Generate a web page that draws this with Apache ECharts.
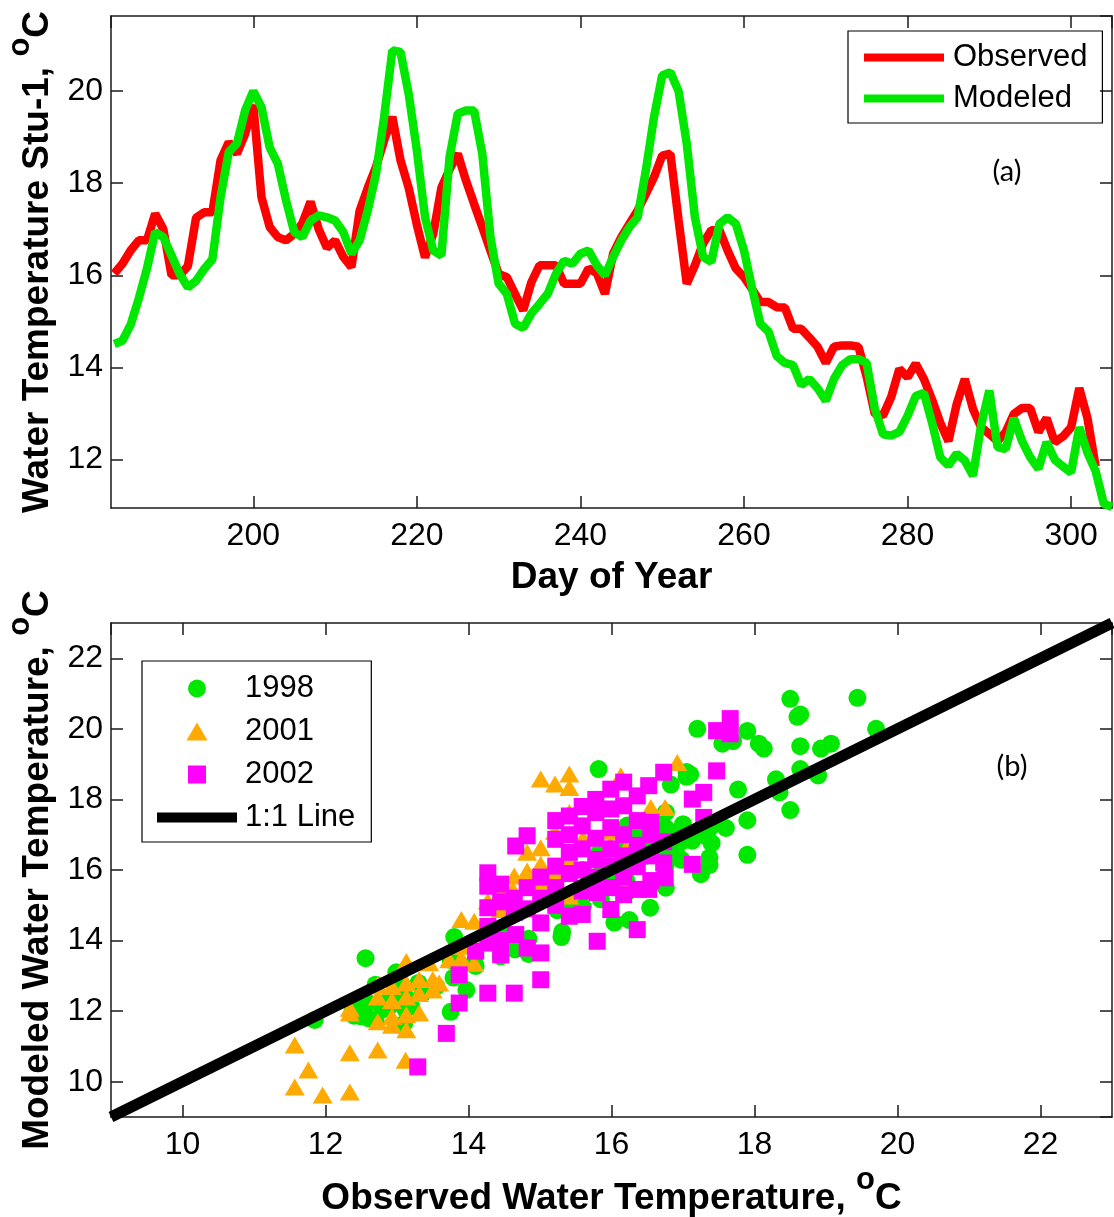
<!DOCTYPE html>
<html><head><meta charset="utf-8">
<script src="https://cdn.jsdelivr.net/npm/echarts@6/dist/echarts.min.js"></script>
<style>html,body{margin:0;padding:0;background:#fff}#c{width:1114px;height:1217px}</style>
</head><body><div id="c"></div>
<script>
// ---- Panel (a): daily water temperature at Stu-1 ----
const days = [183,184,185,186,187,188,189,190,191,192,193,194,195,196,197,198,199,200,
201,202,203,204,205,206,207,208,209,210,211,212,213,214,215,216,217,218,219,220,
221,222,223,224,225,226,227,228,229,230,231,232,233,234,235,236,237,238,239,240,
241,242,243,244,245,246,247,248,249,250,251,252,253,254,255,256,257,258,259,260,
261,262,263,264,265,266,267,268,269,270,271,272,273,274,275,276,277,278,279,280,
281,282,283,284,285,286,287,288,289,290,291,292,293,294,295,296,297,298,299,300,
301,302,303,304,305];
const observed = [16.04,16.25,16.54,16.76,16.76,17.34,17.0,16.0,16.0,16.2,17.25,17.37,17.37,18.5,18.89,18.64,19.07,19.7,
17.7,17.05,16.83,16.76,16.9,17.13,17.6,17.0,16.6,16.76,16.4,16.18,17.4,17.9,18.35,18.93,19.44,18.5,17.9,17.1,
16.39,16.9,17.9,18.3,18.64,18.06,17.55,17.05,16.54,16.03,15.96,15.6,15.24,15.85,16.22,16.22,16.22,15.82,15.82,15.82,
16.15,16.05,15.6,16.47,16.83,17.12,17.41,17.77,18.13,18.6,18.64,17.2,15.82,16.22,16.69,16.98,16.98,16.54,16.15,15.96,
15.7,15.42,15.42,15.31,15.3,14.84,14.84,14.65,14.45,14.1,14.45,14.48,14.48,14.45,13.8,12.99,12.96,13.36,13.97,13.79,
14.08,13.75,13.3,12.8,12.4,13.2,13.75,13.1,12.7,12.56,12.4,12.6,12.99,13.12,13.12,12.6,12.9,12.38,12.5,12.7,
13.55,12.9,11.85,null,null];
const modeled = [14.51,14.58,14.93,15.5,16.15,16.94,16.83,16.43,16.03,15.74,15.88,16.14,16.35,17.7,18.68,18.86,19.58,20.0,
19.65,18.78,18.42,17.63,16.94,16.83,17.19,17.3,17.26,17.19,16.94,16.47,16.76,17.41,18.2,19.44,20.88,20.85,19.94,18.71,
17.26,16.54,16.43,18.57,19.51,19.58,19.58,18.64,16.83,15.82,15.6,14.95,14.86,15.17,15.38,15.6,16.03,16.32,16.25,16.47,
16.54,16.22,16.0,16.4,16.76,17.05,17.26,18.28,19.44,20.34,20.41,20.0,18.86,17.26,16.4,16.29,17.12,17.26,17.12,16.54,
15.71,14.95,14.78,14.25,14.1,14.05,13.62,13.75,13.55,13.28,13.75,14.05,14.18,14.18,14.1,13.1,12.55,12.52,12.6,12.95,
13.38,13.45,12.8,12.05,11.87,12.13,11.98,11.65,12.75,13.5,12.27,12.23,12.9,12.4,12.05,11.8,12.38,12.0,11.85,11.72,
12.7,12.15,11.75,11.04,10.97];

// ---- Panel (b): observed vs modeled, by year ----
const scatter2001 = [
[11.57,11.04],[11.76,10.33],[11.57,9.85],[11.96,9.62],[12.34,9.71],[12.34,10.82],[12.73,10.9],[13.12,10.61],
[12.34,12.08],[12.34,11.95],[12.73,11.7],[12.73,12.75],[12.73,12.4],[12.93,12.7],[12.93,12.3],[12.93,11.85],[12.93,11.6],
[13.13,12.8],[13.13,12.4],[13.13,11.9],[13.13,11.47],[13.13,13.41],[13.31,12.9],[13.31,12.5],[13.31,11.95],[13.5,12.9],[13.5,12.6],
[13.45,13.37],[13.59,12.8],[13.73,13.46],[13.9,14.6],[13.9,13.5],[13.92,13.84],[14.08,14.55],[14.08,13.36],[14.27,15.12],[14.27,14.36],
[14.45,15.36],[14.45,14.88],[14.62,15.45],[14.64,15.83],[14.82,16.5],[14.82,15.97],[15.01,16.63],[15.01,16.16],[15.01,15.64],
[15.01,18.58],[15.21,18.44],[15.41,18.72],[15.41,18.34],[15.41,17.63],[15.41,16.35],[15.41,15.26],[15.8,17.77],[15.99,16.73],
[16.15,18.58],[16.13,18.67],[16.2,15.54],[16.55,17.77],[16.75,17.77],[16.92,19.05],[15.21,17.1],[15.6,16.9],[16.0,17.1],
[16.2,16.6],[14.64,14.9],[15.21,15.9]];
const scatter2002 = [
[13.29,10.42],[13.69,11.37],[13.87,13.03],[13.87,12.23],[14.27,12.51],[14.64,12.51],[15.01,12.89],[15.8,13.98],[16.36,14.31],
[14.27,15.92],[14.27,15.54],[14.27,14.93],[14.27,13.93],[14.45,13.6],[14.66,16.68],[14.82,16.97],[14.66,14.17],[14.82,13.79],
[15.01,13.65],[15.01,14.5],[15.22,16.87],[15.22,16.11],[15.41,17.53],[15.41,14.69],[15.59,17.25],[15.78,17.63],[15.99,18.29],
[16.17,18.49],[16.17,17.82],[15.99,17.73],[15.99,14.88],[15.59,14.74],[15.8,15.36],[16.36,15.45],[16.52,15.45],[16.52,18.39],
[16.55,17.35],[16.73,18.77],[16.75,15.78],[17.13,16.16],[17.13,18.01],[17.29,18.2],[17.29,17.49],[17.47,18.81],[17.47,19.95],
[17.66,20.29],[17.66,19.86],[14.45,14.0],[14.1,13.7],
[15.01,15.2],[15.01,15.8],[15.22,15.5],[15.22,15.0],[15.41,15.9],[15.41,16.5],[15.59,16.0],[15.59,16.6],[15.59,15.4],
[15.78,16.3],[15.78,16.9],[15.78,15.8],[15.99,16.1],[15.99,16.6],[15.99,17.2],[15.99,15.5],[16.17,16.4],[16.17,17.0],
[16.17,15.8],[16.36,16.7],[16.36,17.4],[16.36,16.1],[16.55,16.4],[16.55,17.0],[16.73,16.2],[16.73,16.8],[14.45,15.1],
[14.45,15.6],[14.64,15.2],[14.64,14.8],[14.82,15.5],[14.82,14.9],[15.22,17.4],[15.41,17.0],[15.59,17.8],[15.78,18.0],
[16.36,18.1],[16.55,15.7],[16.17,15.3],[14.27,14.4]];
const oneToOne = [[9,9],[23,23]];

// 1998 pairs are the same observed/modeled series shown in panel (a)
const scatter1998 = [];
days.forEach((d, i) => { if (observed[i] != null && modeled[i] != null) scatter1998.push([observed[i], modeled[i]]); });

const FONT = 'Liberation Sans';
const AX = {color: '#1a1a1a', width: 1.5};
const tickLbl = {fontSize: 32, fontFamily: FONT, color: '#000', showMinLabel: false, showMaxLabel: false};
const nameStyle = {
  fontFamily: FONT, fontWeight: 'bold', fontSize: 37, color: '#000',
  rich: {
    t: {fontFamily: FONT, fontWeight: 'bold', fontSize: 37, color: '#000', lineHeight: 52, verticalAlign: 'bottom'},
    s: {fontFamily: FONT, fontWeight: 'bold', fontSize: 31, color: '#000', lineHeight: 4, verticalAlign: 'top'}
  }
};
function mainX(grid, min, max, split, name, gap) {
  return {gridIndex: grid, type: 'value', min, max, splitNumber: split, position: 'bottom',
    axisLine: {show: true, onZero: false, lineStyle: AX},
    axisTick: {show: true, inside: true, length: 12, lineStyle: AX},
    axisLabel: Object.assign({margin: 12}, tickLbl), splitLine: {show: false},
    name, nameLocation: 'middle', nameGap: gap, nameTextStyle: nameStyle};
}
function mirrorX(grid, min, max, split) {
  return {gridIndex: grid, type: 'value', min, max, splitNumber: split, position: 'top',
    axisLine: {show: true, onZero: false, lineStyle: AX},
    axisTick: {show: true, inside: true, length: 12, lineStyle: AX},
    axisLabel: {show: false}, splitLine: {show: false}};
}
function mainY(grid, min, max, split, name, gap) {
  return {gridIndex: grid, type: 'value', min, max, splitNumber: split, position: 'left',
    axisLine: {show: true, onZero: false, lineStyle: AX},
    axisTick: {show: true, inside: true, length: 12, lineStyle: AX},
    axisLabel: Object.assign({margin: 8}, tickLbl), splitLine: {show: false},
    name, nameLocation: 'middle', nameGap: gap, nameRotate: 90, nameTextStyle: nameStyle};
}
function mirrorY(grid, min, max, split) {
  return {gridIndex: grid, type: 'value', min, max, splitNumber: split, position: 'right',
    axisLine: {show: true, onZero: false, lineStyle: AX},
    axisTick: {show: true, inside: true, length: 12, lineStyle: AX},
    axisLabel: {show: false}, splitLine: {show: false}};
}

const chart = echarts.init(document.getElementById('c'), null, {renderer: 'canvas'});
chart.setOption({
  animation: false,
  backgroundColor: '#fff',
  grid: [
    {left: 111, top: 16, width: 1001, height: 492, containLabel: false, outerBoundsMode: 'none'},
    {left: 111, top: 623, width: 1001, height: 494, containLabel: false, outerBoundsMode: 'none'}
  ],
  xAxis: [
    Object.assign(mainX(0, 182.6, 305, 6, 'Day of Year', 51), {nameTextStyle: {fontFamily: FONT, fontWeight: 'bold', fontSize: 37, color: '#000'}}),
    mirrorX(0, 182.6, 305, 6),
    mainX(1, 9, 23, 7, '{t|Observed Water Temperature, }{s|o}{t|C}', 48),
    mirrorX(1, 9, 23, 7)
  ],
  yAxis: [
    mainY(0, 10.95, 21.63, 5, '{t|Water Temperature Stu-1, }{s|o}{t|C}', 51),
    mirrorY(0, 10.95, 21.63, 5),
    mainY(1, 9, 23, 7, '{t|Modeled Water Temperature, }{s|o}{t|C}', 51),
    mirrorY(1, 9, 23, 7)
  ],
  legend: [
    {data: ['Observed', 'Modeled'], orient: 'vertical', left: 848, top: 31,
     itemWidth: 80, itemHeight: 8, icon: 'rect', itemGap: 8, padding: [10, 15, 8, 16],
     borderColor: '#000', borderWidth: 1.2, selectedMode: false, itemStyle: {borderWidth: 0},
     textStyle: {fontSize: 31, fontFamily: FONT, color: '#000', lineHeight: 33, padding: [0, 0, 0, 4]}},
    {data: [
       {name: '1998', icon: 'circle'},
       {name: '2001', icon: 'path://M10,0 L20,17 L0,17 Z'},
       {name: '2002', icon: 'path://M0,0 L16,0 L16,16 L0,16 Z'},
       {name: '1:1 Line', icon: 'path://M0,0 L80,0 L80,10 L0,10 Z'}],
     orient: 'vertical', left: 142, top: 661,
     itemWidth: 80, itemHeight: 18, itemGap: 12, padding: [12, 16, 9, 15],
     borderColor: '#000', borderWidth: 1.2, selectedMode: false, itemStyle: {borderWidth: 0},
     textStyle: {fontSize: 31, fontFamily: FONT, color: '#000', lineHeight: 30, padding: [0, 0, 0, 3]}}
  ],
  graphic: [
    {type: 'text', x: 1007, y: 172, style: {text: '(a)', font: '29px Lato', fill: '#000', textAlign: 'center', textVerticalAlign: 'middle'}},
    {type: 'text', x: 1012, y: 767, style: {text: '(b)', font: '29px Lato', fill: '#000', textAlign: 'center', textVerticalAlign: 'middle'}}
  ],
  series: [
    {name: 'Observed', type: 'line', xAxisIndex: 0, yAxisIndex: 0, showSymbol: false, symbol: 'none',
     data: days.map((d, i) => [d, observed[i]]), connectNulls: false,
     lineStyle: {color: '#ff0000', width: 8.5}, itemStyle: {color: '#ff0000'}},
    {name: 'Modeled', type: 'line', xAxisIndex: 0, yAxisIndex: 0, showSymbol: false, symbol: 'none',
     data: days.map((d, i) => [d, modeled[i]]),
     lineStyle: {color: '#00e800', width: 8.5}, itemStyle: {color: '#00e800'}},
    {name: '1998', type: 'scatter', xAxisIndex: 2, yAxisIndex: 2, symbol: 'circle', symbolSize: 18,
     data: scatter1998, itemStyle: {color: '#00e800', opacity: 1}},
    {name: '2001', type: 'scatter', xAxisIndex: 2, yAxisIndex: 2, symbol: 'triangle', symbolSize: [20, 17],
     data: scatter2001, itemStyle: {color: '#ffaa00', opacity: 1}},
    {name: '2002', type: 'scatter', xAxisIndex: 2, yAxisIndex: 2, symbol: 'rect', symbolSize: 17,
     data: scatter2002, itemStyle: {color: '#ff00ff', opacity: 1}},
    {name: '1:1 Line', type: 'line', xAxisIndex: 2, yAxisIndex: 2, showSymbol: false, symbol: 'none',
     data: oneToOne, lineStyle: {color: '#000', width: 11}, itemStyle: {color: '#000'}}
  ]
});
</script>
</body></html>
